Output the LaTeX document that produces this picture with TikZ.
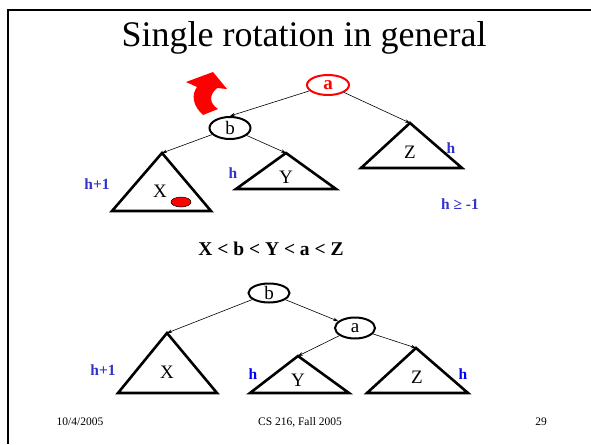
\documentclass[tikz,border=0pt]{standalone}
\usepackage{fontspec}
\setmainfont{Liberation Serif}
\usetikzlibrary{shapes.geometric,arrows.meta}
\definecolor{hblue}{RGB}{51,51,204}
\begin{document}
\begin{tikzpicture}[x=1pt,y=-1pt,
  tri/.style={line width=2.6pt,line join=miter},
  ell/.style={ellipse,draw,line width=2pt,inner sep=0pt,minimum width=41pt,minimum height=21pt,font=\fontsize{19}{19}\selectfont},
  edge/.style={line width=0.6pt,-{Stealth[length=5pt,width=3.5pt]}},
  lbl/.style={font=\fontsize{19}{19}\selectfont,inner sep=0pt},
  hl/.style={font=\fontsize{15.5}{15.5}\selectfont\bfseries,text=hblue,inner sep=0pt},
  foot/.style={font=\fontsize{11.5}{12}\selectfont,inner sep=0pt}]
\useasboundingbox (0,0) rectangle (591,444);
\fill[white] (0,0) rectangle (591,444);
% frame
\draw[line width=2.6pt] (591,10) -- (8,10) -- (8,444);
% title
\node[font=\fontsize{36}{36}\selectfont,inner sep=0pt,anchor=base] (title) at (304,47) {Single rotation in general};

% ---------- top tree ----------
\node[ell,draw=red,text=red,font=\fontsize{19}{19}\selectfont\bfseries,minimum width=42pt,minimum height=20pt] (a1) at (328,85) {a};
\node[ell,minimum height=22pt] (b1) at (230,128) {b};
\coordinate (X1t) at (162,153);
\coordinate (Y1t) at (286,153);
\coordinate (Z1t) at (410,123);
\draw[tri] (X1t) -- (112,211) -- (211,211) -- cycle;
\draw[tri] (Y1t) -- (236,189) -- (336,189) -- cycle;
\draw[tri] (Z1t) -- (361,168) -- (462,168) -- cycle;
\node[lbl] (X1) at (160,191) {X};
\node[lbl] (Y1) at (286,177) {Y};
\node[lbl] (Z1) at (410,152) {Z};
\node[ellipse,fill=red,draw=black,line width=0.5pt,minimum width=20pt,minimum height=10pt,inner sep=0pt] (dot) at (181,202) {};
\draw[edge] (a1) -- (b1.north);
\draw[edge] (a1) -- (Z1t);
\draw[edge] (b1) -- (X1t);
\draw[edge] (b1) -- (Y1t);
\node[hl] (h1) at (97,184) {h+1};
\node[hl] (h2) at (233,173) {h};
\node[hl] (h3) at (451,148) {h};
\node[hl] (h4) at (460,204) {h ≥ -1};
% red rotation arrow
\fill[red] (203,115) .. controls (193,106) and (191,95) .. (197,87) -- (186,82) -- (213,72) -- (227,89) -- (217,88)
  .. controls (209,95) and (209,103) .. (218,109) -- cycle;

% middle text
\node[font=\fontsize{19.5}{20}\selectfont\bfseries,inner sep=0pt] (order) at (271,249) {X < b < Y < a < Z};

% ---------- bottom tree ----------
\node[ell,minimum height=19pt] (b2) at (269,293) {b};
\node[ell,minimum width=40pt] (a2) at (355,328) {a};
\coordinate (X2t) at (167,333);
\coordinate (Y2t) at (298,356);
\coordinate (Z2t) at (416,348);
\draw[tri] (X2t) -- (118,393) -- (217,393) -- cycle;
\draw[tri] (Y2t) -- (250,393) -- (349,393) -- cycle;
\draw[tri] (Z2t) -- (367,393) -- (468,393) -- cycle;
\node[lbl] (X2) at (167,372) {X};
\node[lbl] (Y2) at (298,380) {Y};
\node[lbl] (Z2) at (417,377) {Z};
\draw[edge] (b2) -- (X2t);
\draw[edge] (b2) -- (a2);
\draw[edge] (a2) -- (Y2t);
\draw[edge] (a2) -- (Z2t);
\node[hl] (h5) at (103,370) {h+1};
\node[hl,text=blue] (h6) at (253,374) {h};
\node[hl,text=blue] (h7) at (463,374) {h};

% footer
\node[foot] (date) at (80,422) {10/4/2005};
\node[foot] (course) at (300,422) {CS 216, Fall 2005};
\node[foot] (page) at (541,422) {29};
\end{tikzpicture}
\end{document}
